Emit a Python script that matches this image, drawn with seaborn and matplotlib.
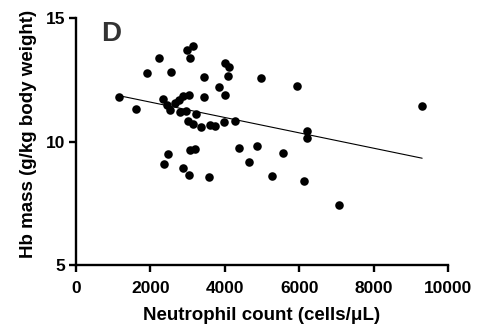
import numpy as np
import seaborn as sns
import matplotlib.pyplot as plt

# neutrophil count (cells/uL) vs Hb mass (g/kg body weight)
neutrophils = [1157, 1614, 1918, 2241, 2556, 2986, 3140, 3074, 3451, 3443,
               3856, 4009, 4000, 4116, 4081, 4977, 5954, 9308, 2349, 2456,
               2529, 2663, 2779, 2870, 3048, 2798, 2959, 3228, 3021, 3156,
               3363, 3605, 3740, 3982, 4277, 6202, 6202, 2483, 2368, 2870,
               3048, 3067, 3202, 3570, 4385, 4654, 4869, 5555, 5281, 6134,
               7067]
hb_mass = [11.81, 11.32, 12.81, 13.39, 12.83, 13.73, 13.89, 13.41, 12.64, 11.83,
           12.21, 11.92, 13.18, 13.05, 12.67, 12.57, 12.27, 11.45, 11.73, 11.50,
           11.30, 11.57, 11.70, 11.84, 11.92, 11.23, 11.26, 11.12, 10.85, 10.72,
           10.62, 10.69, 10.65, 10.82, 10.85, 10.45, 10.17, 9.51, 9.11, 8.93,
           8.66, 9.68, 9.72, 8.57, 9.77, 9.17, 9.82, 9.56, 8.63, 8.43,
           7.45]
x_ticks = [0, 2000, 4000, 6000, 8000, 10000]
y_ticks = [5, 10, 15]

sns.set_style('ticks')
plt.rcParams['font.family'] = ['Liberation Sans', 'DejaVu Sans']
plt.rcParams['font.weight'] = 'bold'

fig = plt.figure(figsize=(4.78, 3.35), dpi=100)
ax = fig.add_axes([0.159, 0.2075, 0.778, 0.7375])

sns.regplot(x=neutrophils, y=hb_mass, ax=ax, ci=None, truncate=True,
            color='black',
            scatter_kws={'s': 38, 'linewidths': 0, 'alpha': 1},
            line_kws={'linewidth': 0.8})

ax.set_xlim(0, 10000)
ax.set_ylim(5, 15)
ax.set_xticks(x_ticks)
ax.set_yticks(y_ticks)
ax.tick_params(width=1.7, length=5, labelsize=12.5, color='black', labelcolor='black')
ax.tick_params(axis='x', pad=6)
ax.tick_params(axis='y', pad=2.5)
for lab in ax.get_xticklabels() + ax.get_yticklabels():
    lab.set_fontweight('bold')
for s in ['left', 'bottom']:
    ax.spines[s].set_linewidth(1.7)
    ax.spines[s].set_color('black')
sns.despine(ax=ax)

ax.set_xlabel('Neutrophil count (cells/\u03bcL)', fontsize=13.5, fontweight='bold',
              labelpad=8, color='black')
ax.set_ylabel('Hb mass (g/kg body weight)', fontsize=13.5, fontweight='bold',
              color='black')
ax.yaxis.set_label_coords(-0.105, 0.534)
ax.text(0.067, 0.99, 'D', transform=ax.transAxes, fontsize=20, fontweight='bold',
        color='#333333', ha='left', va='top')

fig.savefig('out.png', dpi=100)
